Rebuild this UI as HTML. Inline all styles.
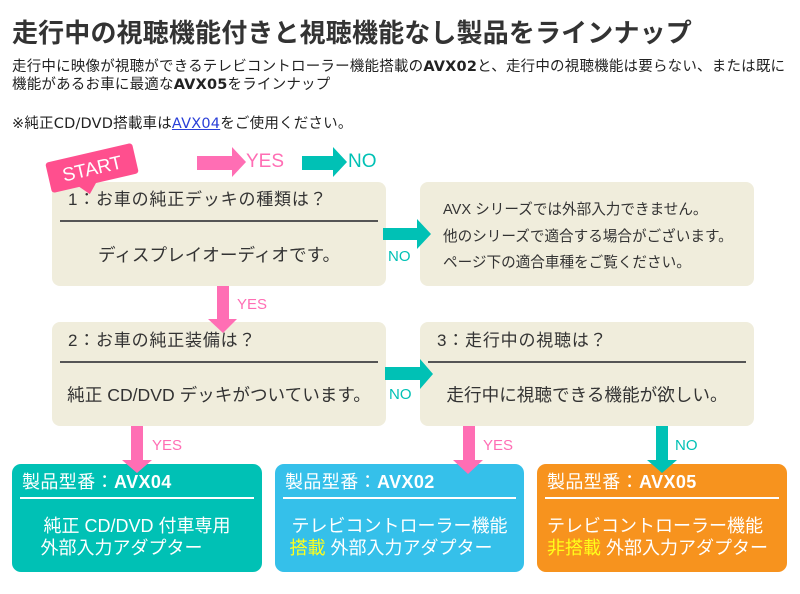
<!DOCTYPE html>
<html><head><meta charset="utf-8">
<style>
*{margin:0;padding:0;box-sizing:border-box}
html,body{width:800px;height:594px;background:#fff;overflow:hidden}
body{position:relative;font-family:"Liberation Sans","Noto Sans CJK JP",sans-serif;color:#333}
.a{position:absolute;white-space:nowrap}
.title{left:12px;top:15px;font-size:26px;line-height:36px;font-weight:bold;color:#333;letter-spacing:0.15px}
.para{left:12px;font-family:"DejaVu Sans","Noto Sans CJK JP",sans-serif;font-size:14.5px;line-height:18px;letter-spacing:0.2px;color:#222}
.para b{font-weight:bold}
.para a{color:#2a3fd8;text-decoration:underline}
.bx{position:absolute;background:#f0eddc;border-radius:8px;width:334px;height:104px}
.q{position:absolute;font-size:17px;line-height:22px;letter-spacing:0.8px;color:#333;white-space:nowrap}
.hl{position:absolute;height:2px;background:#555}
.bd{position:absolute;left:0;width:100%;text-align:center;font-size:17.6px;line-height:24px;color:#333;white-space:nowrap}
.nt{position:absolute;left:23px;font-size:14.6px;line-height:20px;color:#333;white-space:nowrap}
.pb{position:absolute;top:464px;width:250px;height:108px;border-radius:9px;color:#fff}
.pt{position:absolute;left:10px;top:7px;font-size:18px;line-height:22px;letter-spacing:0.4px;white-space:nowrap}
.pt b{font-weight:bold}
.pl{position:absolute;left:8px;right:8px;top:33px;height:2px;background:#fff}
.pbody{position:absolute;left:0;width:100%;top:51px;text-align:center;font-size:18px;line-height:22px;white-space:nowrap}
.y{color:#ffff1a}
.lbl{position:absolute;font-size:15px;line-height:18px;white-space:nowrap}
svg{position:absolute;left:0;top:0}
</style></head><body>

<div class="a title">走行中の視聴機能付きと視聴機能なし製品をラインナップ</div>
<div class="a para" style="top:58px">走行中に映像が視聴ができるテレビコントローラー機能搭載の<b>AVX02</b>と、走行中の視聴機能は要らない、または既に<br>機能があるお車に最適な<b>AVX05</b>をラインナップ</div>
<div class="a para" style="top:115px">※純正CD/DVD搭載車は<a>AVX04</a>をご使用ください。</div>

<!-- beige boxes -->
<div class="bx" style="left:52px;top:182px">
  <div class="q" style="left:16px;top:7px">1：お車の純正デッキの種類は？</div>
  <div class="hl" style="left:8px;right:8px;top:38px"></div>
  <div class="bd" style="top:61px">ディスプレイオーディオです。</div>
</div>
<div class="bx" style="left:420px;top:182px">
  <div class="nt" style="top:18px">AVX シリーズでは外部入力できません。</div>
  <div class="nt" style="top:45px">他のシリーズで適合する場合がございます。</div>
  <div class="nt" style="top:71px">ページ下の適合車種をご覧ください。</div>
</div>
<div class="bx" style="left:52px;top:322px">
  <div class="q" style="left:16px;top:8px">2：お車の純正装備は？</div>
  <div class="hl" style="left:8px;right:8px;top:39px"></div>
  <div class="bd" style="top:61px">純正 CD/DVD デッキがついています。</div>
</div>
<div class="bx" style="left:420px;top:322px">
  <div class="q" style="left:17px;top:8px">3：走行中の視聴は？</div>
  <div class="hl" style="left:8px;right:8px;top:39px"></div>
  <div class="bd" style="top:61px">走行中に視聴できる機能が欲しい。</div>
</div>

<!-- product boxes -->
<div class="pb" style="left:12px;background:#00c1b5">
  <div class="pt">製品型番：<b>AVX04</b></div>
  <div class="pl"></div>
  <div class="pbody">純正 CD/DVD 付車専用<br><span style="display:inline-block;width:193px;text-align:left">外部入力アダプター</span></div>
</div>
<div class="pb" style="left:275px;width:249px;background:#35c0ea">
  <div class="pt">製品型番：<b>AVX02</b></div>
  <div class="pl"></div>
  <div class="pbody">テレビコントローラー機能<br><span style="display:inline-block;width:220px;text-align:left"><span class="y">搭載</span> 外部入力アダプター</span></div>
</div>
<div class="pb" style="left:537px;background:#f7931e">
  <div class="pt">製品型番：<b>AVX05</b></div>
  <div class="pl"></div>
  <div class="pbody" style="text-align:left;left:10px">テレビコントローラー機能<br><span class="y">非搭載</span> 外部入力アダプター</div>
</div>

<svg width="800" height="594" viewBox="0 0 800 594">
  <!-- legend -->
  <polygon fill="#ff6eb4" points="197,156 232,156 232,147 246,162 232,177 232,170 197,170"/>
  <polygon fill="#00c1b5" points="302,156 333,156 333,147 347,162 333,177 333,170 302,170"/>
  <!-- box1 -> NO -->
  <polygon fill="#00c1b5" points="383,228 417,228 417,219 431,234 417,249 417,240 383,240"/>
  <!-- box2 -> box3 -->
  <polygon fill="#00c1b5" points="385,367 420,367 420,359 433,374 420,389 420,380 385,380"/>
  <!-- box1 -> box2 YES -->
  <polygon fill="#ff6eb4" points="217,286 229,286 229,319 237,319 223,333 208,319 217,319"/>
  <!-- box2 -> AVX04 -->
  <polygon fill="#ff6eb4" points="131,426 143,426 143,460 152,460 137,473 122,460 131,460"/>
  <!-- box3 -> AVX02 -->
  <polygon fill="#ff6eb4" points="463,426 475,426 475,460 483,460 468,474 453,460 463,460"/>
  <!-- box3 -> AVX05 NO -->
  <polygon fill="#00c1b5" points="656,426 668,426 668,460 677,460 662,473 647,460 656,460"/>

  <!-- START tag -->
  <g transform="translate(92,168) rotate(-13)">
    <rect x="-44.5" y="-15.5" width="89" height="31" rx="3" fill="#ff4f8e"/>
    <polygon points="-17,15 1,15 -8,25" fill="#ff4f8e"/>
    <text x="0" y="7" text-anchor="middle" font-family="Liberation Sans, sans-serif" font-size="19" fill="#fff">START</text>
  </g>
</svg>

<div class="lbl" style="left:246px;top:151px;font-size:19px;line-height:22px;color:#ff6eb4">YES</div>
<div class="lbl" style="left:348px;top:151px;font-size:19px;line-height:22px;color:#00c1b5">NO</div>
<div class="lbl" style="left:388px;top:248px;color:#00c1b5">NO</div>
<div class="lbl" style="left:389px;top:386px;color:#00c1b5">NO</div>
<div class="lbl" style="left:237px;top:296px;color:#ff6eb4">YES</div>
<div class="lbl" style="left:152px;top:437px;color:#ff6eb4">YES</div>
<div class="lbl" style="left:483px;top:437px;color:#ff6eb4">YES</div>
<div class="lbl" style="left:675px;top:437px;color:#00c1b5">NO</div>

</body></html>
